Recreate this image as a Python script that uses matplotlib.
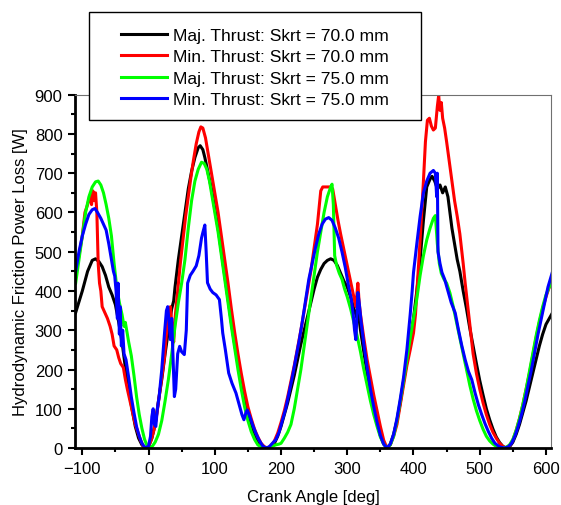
import matplotlib.pyplot as plt
from matplotlib.patches import Rectangle
from matplotlib.ticker import MultipleLocator

# crank angle [deg] / friction power [W]
maj70_deg = [-110, -100, -92, -85, -80, -75, -70, -65, -60, -55, -50, -45, -40, -35, -30,
             -25, -20, -15, -10, -5, 0, 5, 10, 15, 20, 25, 30, 35, 38, 40, 45, 50, 55, 60,
             65, 70, 75, 78, 82, 85, 90, 95, 100, 105, 110, 115, 120, 125, 130, 135, 140,
             145, 150, 155, 160, 165, 170, 178, 185, 190, 195, 200, 205, 210, 215, 220, 225,
             230, 235, 240, 245, 250, 255, 260, 265, 270, 275, 280, 285, 290, 295, 300, 305,
             310, 315, 317, 320, 325, 330, 335, 340, 345, 350, 355, 360, 365, 370, 375, 380,
             385, 390, 395, 400, 405, 410, 415, 420, 425, 428, 432, 436, 440, 444, 448, 452,
             455, 458, 462, 466, 470, 475, 480, 485, 490, 495, 500, 505, 510, 515, 520, 525,
             530, 535, 540, 545, 550, 555, 560, 565, 570, 575, 580, 585, 590, 595, 600, 610]
maj70_w = [345, 400, 450, 478, 482, 475, 462, 440, 410, 390, 365, 320, 270, 205, 150,
           100, 55, 25, 8, 0, 3, 25, 60, 120, 175, 240, 300, 355, 375, 410, 480, 540, 600, 660,
           705, 740, 765, 770, 760, 740, 700, 660, 610, 560, 500, 440, 380, 320, 265, 215, 165,
           125, 90, 60, 35, 18, 6, 0, 3, 12, 30, 55, 85, 115, 150, 185, 225,
           265, 300, 335, 370, 405, 435, 455, 470, 478, 482, 478, 465, 445, 425, 410, 385,
           355, 330, 340, 300, 245, 190, 140, 98, 62, 32, 10, 0, 10, 35, 70, 115,
           170, 220, 275, 330, 400, 480, 580, 665, 685, 692, 680, 660, 670, 650, 665, 640,
           600, 560, 520, 480, 450, 400, 355, 305, 260, 215, 172, 135, 100, 72, 48, 28,
           14, 4, 0, 3, 15, 35, 60, 90, 120, 155, 190, 225, 260, 290, 315, 345]

min70_deg = [-110, -105, -100, -96, -92, -88, -86, -84, -82, -80, -78, -76, -74, -72, -70,
             -66, -62, -58, -55, -52, -48, -45, -42, -38, -35, -32, -28, -24, -20, -16, -12,
             -8, -5, 0, 4, 8, 12, 16, 20, 24, 27, 30, 33, 36, 38, 40, 44, 48, 52, 56, 60, 64,
             68, 72, 76, 79, 82, 86, 90, 95, 100, 105, 110, 115, 120, 125, 130, 135, 140, 145,
             150, 155, 160, 165, 170, 175, 180, 185, 190, 195, 200, 205, 210, 215, 220, 225,
             230, 235, 240, 245, 250, 255, 258, 260, 263, 270, 275, 278, 282, 286, 290, 295,
             300, 305, 310, 313, 316, 318, 320, 325, 330, 335, 340, 345, 350, 355, 360, 365,
             370, 375, 380, 385, 390, 395, 400, 403, 406, 410, 415, 418, 421, 424, 427, 430,
             433, 436, 438, 440, 442, 444, 447, 450, 454, 458, 462, 466, 470, 475, 478, 482,
             486, 490, 495, 500, 505, 510, 515, 520, 525, 530, 535, 540, 545, 550, 555, 560,
             565, 570, 575, 580, 585, 590, 595, 600, 605, 610]
min70_w = [445, 490, 540, 600, 620, 645, 620, 655, 630, 650, 600, 470, 420, 400, 360,
           345, 330, 310, 290, 260, 250, 230, 215, 205, 175, 150, 120, 90, 60, 40, 20,
           5, 0, 5, 20, 45, 80, 130, 180, 230, 290, 345, 360, 300, 270, 330, 400, 470, 530, 590, 640, 690,
           735, 775, 805, 818, 815, 790, 750, 700, 650, 600, 540, 480, 420, 355, 295, 240, 190, 145,
           105, 75, 48, 28, 12, 3, 0, 5, 18, 38, 65, 95, 130, 170, 210, 255,
           300, 350, 400, 450, 510, 570, 620, 655, 665, 665, 665, 660, 620, 580, 545, 505,
           465, 425, 385, 360, 420, 370, 340, 280, 225, 180, 135, 95, 55, 20, 0, 8,
           30, 60, 110, 160, 210, 250, 293, 340, 420, 530, 680, 780, 835, 840, 820, 810,
           815, 870, 898, 860, 880, 840, 815, 780, 730, 680, 630, 590, 545, 470, 420, 360,
           300, 240, 190, 150, 115, 85, 60, 40, 25, 12, 4, 0, 5, 20, 45, 75,
           110, 150, 190, 235, 280, 320, 355, 385, 410, 430]

maj75_deg = [-110, -105, -100, -95, -90, -85, -80, -76, -72, -68, -64, -60, -56, -52, -48,
             -44, -40, -37, -35, -33, -30, -26, -22, -18, -14, -10, -6, -2, 2, 6, 10, 15, 20,
             25, 30, 35, 40, 45, 50, 55, 60, 65, 70, 75, 80, 84, 88, 92, 96, 100, 105, 110,
             115, 120, 125, 130, 135, 140, 145, 150, 155, 160, 165, 170, 177, 185, 192, 197,
             200, 205, 210, 215, 220, 225, 230, 235, 240, 245, 250, 255, 260, 265, 270, 275,
             277, 279, 281, 284, 288, 292, 296, 300, 305, 310, 315, 320, 325, 330, 335, 340,
             345, 350, 355, 360, 365, 370, 375, 380, 385, 390, 395, 400, 405, 410, 415, 420,
             425, 430, 433, 436, 439, 442, 446, 450, 455, 460, 465, 470, 475, 480, 485, 490,
             495, 500, 505, 510, 515, 520, 525, 532, 540, 545, 550, 555, 560, 565, 570, 575,
             580, 585, 590, 595, 600, 605, 610]
maj75_w = [420, 480, 540, 600, 640, 665, 678, 680, 670, 650, 620, 585, 540, 470, 410,
           370, 340, 310, 320, 300, 270, 235, 185, 130, 85, 50, 22, 5, 0, 5, 15, 35, 70,
           120, 175, 240, 310, 370, 420, 480, 560, 630, 680, 710, 728, 725, 710, 680, 640, 600, 550, 490,
           430, 370, 310, 255, 200, 150, 105, 70, 42, 22, 8, 3, 0, 3, 8, 10,
           12, 25, 40, 60, 100, 150, 200, 260, 320, 380, 440, 500, 550, 600, 640, 665,
           672, 620, 490, 465, 445, 430, 405, 385, 355, 320, 285, 245, 200, 160, 120, 85,
           55, 28, 10, 0, 8, 30, 70, 120, 170, 225, 280, 330, 380, 440, 490, 530,
           560, 585, 592, 520, 470, 445, 430, 420, 395, 360, 320, 280, 240, 200, 160, 125,
           95, 70, 48, 30, 18, 10, 4, 0, 2, 8, 22, 45, 75, 110, 150, 195,
           240, 285, 325, 360, 390, 410, 425]

min75_deg = [-110, -105, -100, -95, -90, -85, -81, -77, -72, -68, -64, -60, -56, -53, -51,
             -49, -47, -46, -44, -43, -41, -39, -37, -34, -30, -26, -22, -18, -14, -10, -5,
             0, 3, 5, 7, 9, 11, 13, 16, 20, 24, 27, 29, 31, 33, 35, 37, 39, 41, 44, 47, 50,
             54, 57, 59, 63, 67, 72, 76, 80, 82, 85, 87, 89, 93, 97, 102, 107, 110, 112, 116,
             121, 126, 132, 137, 141, 144, 147, 149, 153, 157, 162, 167, 172, 177, 182, 187,
             192, 197, 202, 207, 212, 217, 222, 227, 232, 237, 242, 247, 252, 257, 262, 267,
             272, 277, 282, 287, 292, 297, 302, 306, 309, 311, 313, 315, 316, 318, 321, 325,
             330, 335, 340, 345, 350, 355, 360, 365, 370, 375, 380, 385, 390, 395, 398, 400,
             405, 410, 415, 420, 425, 430, 433, 435, 436, 437, 440, 443, 447, 452, 457, 463,
             468, 473, 478, 483, 488, 493, 498, 503, 508, 513, 518, 523, 530, 537, 543, 548,
             553, 558, 563, 568, 573, 578, 583, 588, 593, 598, 603, 610]
min75_w = [450, 500, 540, 570, 595, 607, 610, 600, 585, 570, 555, 520, 480, 450, 438,
           400, 330, 420, 290, 360, 260, 300, 240, 225, 180, 130, 90, 54, 30, 12, 0,
           5, 30, 80, 100, 60, 55, 95, 131, 200, 290, 350, 360, 320, 276, 330, 230, 131, 150, 240, 259, 245,
           238, 300, 420, 440, 450, 464, 490, 535, 549, 568, 500, 421, 405, 396, 390, 378, 330, 293, 250,
           191, 165, 140, 110, 85, 72, 90, 97, 80, 60, 38, 20, 6, 0, 3, 12,
           21, 40, 70, 100, 140, 180, 225, 270, 320, 375, 430, 470, 510, 545, 570, 583,
           587, 580, 560, 535, 500, 460, 412, 380, 340, 300, 276, 350, 396, 370, 320, 265,
           205, 150, 105, 65, 32, 10, 0, 10, 35, 75, 125, 180, 250, 340, 400, 447,
           520, 590, 650, 680, 700, 707, 700, 640, 700, 500, 470, 447, 430, 400, 370, 344,
           300, 260, 225, 195, 174, 140, 110, 85, 62, 42, 25, 12, 3, 0, 3, 12,
           30, 55, 85, 120, 160, 200, 245, 290, 330, 370, 410, 450]

labels = ["Maj. Thrust: Skrt = 70.0 mm", "Min. Thrust: Skrt = 70.0 mm",
          "Maj. Thrust: Skrt = 75.0 mm", "Min. Thrust: Skrt = 75.0 mm"]
colors = ["#000000", "#ff0000", "#00ff00", "#0000ff"]

plt.rcParams["font.family"] = ["Liberation Sans", "DejaVu Sans"]
plt.rcParams["font.size"] = 12

fig = plt.figure(figsize=(5.61, 5.06), dpi=100)
ax = fig.add_axes([0.1337, 0.1126, 0.8485, 0.6983])

series = [(maj70_deg, maj70_w), (min70_deg, min70_w), (maj75_deg, maj75_w), (min75_deg, min75_w)]
lines = []
for (deg, w), c, lab in zip(series, colors, labels):
    ln, = ax.plot(deg, w, color=c, lw=2.2, label=lab, solid_joinstyle="round")
    lines.append(ln)

ax.set_xlim(-111, 607.6)
ax.set_ylim(0, 900)
ax.xaxis.set_major_locator(MultipleLocator(100))
ax.xaxis.set_minor_locator(MultipleLocator(50))
ax.yaxis.set_major_locator(MultipleLocator(100))
ax.yaxis.set_minor_locator(MultipleLocator(50))
ax.tick_params(which="major", direction="out", length=5, width=1.5, pad=4)
ax.tick_params(which="minor", direction="out", length=2.8, width=1.5)
ax.tick_params(top=False, right=False, which="both")

for s in ["left", "bottom"]:
    ax.spines[s].set_linewidth(2)
for s in ["top", "right"]:
    ax.spines[s].set_linewidth(0.8)
    ax.spines[s].set_color("#707070")

ax.set_xlabel("Crank Angle [deg]", labelpad=10)
ax.set_ylabel("Hydrodynamic Friction Power Loss [W]", labelpad=5)

# legend box sits above the axes top edge
box = Rectangle((89 / 561, 1 - 121 / 506), (421 - 89) / 561, (121 - 13) / 506,
                transform=fig.transFigure, facecolor="white", edgecolor="black",
                lw=1.0, zorder=4)
fig.patches.append(box)
fig.legend(handles=lines, loc="center", bbox_to_anchor=(255 / 561, 1 - 68.5 / 506),
           frameon=False, handlelength=2.6, handletextpad=0.35, labelspacing=0.36,
           borderpad=0, fontsize=12.6).set_zorder(5)

fig.savefig("out.png", dpi=100)
